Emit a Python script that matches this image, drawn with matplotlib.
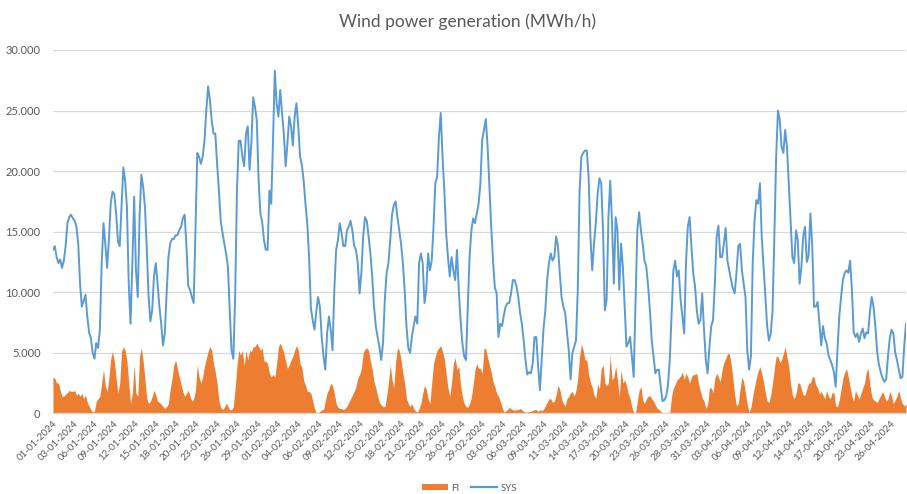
import matplotlib
matplotlib.use("Agg")
import matplotlib.pyplot as plt
from matplotlib.ticker import FuncFormatter, FixedLocator
from matplotlib.patches import Patch
from matplotlib.lines import Line2D
import numpy as np

# Hours between samples (readings taken every 6 hours from 01-01-2024 00:00)
step_hours = 6

# SYS wind power (MWh/h), 4 readings per day
sys_values = [
    13500, 13800, 12900, 12400,  12700, 12000, 12600, 13800,  15700, 16200, 16400, 16100,
    15900, 15400, 14000, 10700,  8800, 9300, 9800, 8000,      6700, 6200, 5000, 4500,
    5800, 5400, 6900, 12400,     15700, 14000, 12000, 14300,  17300, 18300, 18100, 16500,
    14200, 13800, 17000, 20300,  19200, 17000, 10700, 7400,   12400, 17900, 11800, 9600,
    16200, 19700, 18700, 17000,  13600, 9700, 7600, 8500,     11300, 12400, 10700, 8800,
    7400, 5600, 6600, 9900,      12900, 14000, 14400, 14400,  14700, 14700, 15100, 15400,
    16100, 16400, 13800, 10500,  10200, 9600, 9100, 15100,    21500, 21200, 20600, 21200,
    22500, 25000, 27000, 25900,  24200, 23100, 23100, 20600,  18400, 15900, 14900, 14000,
    13200, 12100, 8500, 5200,    4500, 9600, 18400, 22500,    22500, 21200, 20400, 23100,
    23700, 20100, 22300, 26100,  25300, 24200, 19300, 16500,  15800, 14300, 13500, 13500,
    18400, 17300, 22500, 28300,  25600, 24500, 26700, 24800,  23100, 20400, 22300, 24500,
    23700, 22100, 24500, 25600,  23700, 21200, 20500, 19200,  17300, 15700, 12900, 8700,
    7700, 6900, 8400, 9600,      8800, 6300, 4700, 3600,      6600, 8000, 6900, 5200,
    10200, 13500, 14300, 15700,  14900, 13800, 13800, 15100,  15400, 15900, 15100, 13800,
    13500, 12400, 9900, 11600,   14600, 16200, 15900, 14600,  13200, 11300, 8800, 7200,
    6300, 5500, 4400, 5800,      9400, 11600, 12400, 14300,   16400, 17200, 17500, 16200,
    15100, 14000, 12400, 10200,  7200, 5400, 5000, 6300,      7200, 8000, 7400, 12400,
    13200, 12400, 9100, 10200,   13200, 11800, 12600, 15400,  19000, 19500, 22800, 24800,
    21200, 18400, 14900, 12900,  11300, 12900, 11800, 11000,  13500, 10200, 7700, 5800,
    4700, 4400, 8800, 12900,     15100, 16100, 15700, 16500,  17300, 19000, 22600, 23400,
    24300, 22000, 18700, 15400,  12600, 10400, 9900, 6300,    7400, 7200, 8100, 8800,
    9100, 9100, 9900, 11000,     11000, 10500, 9600, 8300,    7400, 6000, 4400, 3200,
    3400, 3300, 4100, 6300,      6300, 3900, 1900, 4400,      7000, 8500, 11000, 12400,
    13200, 12600, 12900, 14600,  13800, 11600, 9600, 8800,    8300, 6700, 5200, 2800,
    5000, 5500, 6000, 10200,     18400, 21200, 21500, 21700,  21700, 19500, 14600, 11800,
    14000, 15700, 18100, 19400,  19000, 15100, 8500, 9400,    16200, 19200, 15700, 10700,
    16200, 15100, 10200, 14000,  12100, 8800, 5500, 5800,     6300, 4700, 3000, 9100,
    15100, 16600, 15100, 14000,  12600, 12100, 10500, 8500,   6000, 4700, 3300, 3600,
    3600, 2200, 1000, 1100,      1400, 2300, 4400, 8000,      11800, 12600, 11300, 11800,
    9400, 8000, 6600, 12400,     15400, 16200, 13800, 11600,  10500, 8500, 7400, 7700,
    9900, 6900, 4400, 3300,      5500, 7200, 7700, 10700,     14600, 15500, 12900, 12900,
    14000, 15300, 12600, 11800,  11000, 10300, 9900, 11600,   13800, 14000, 11800, 10700,
    9600, 5200, 3600, 4700,      12400, 15900, 17600, 17300,  19000, 14600, 12100, 9600,
    7200, 6000, 6600, 8500,      14600, 21200, 25000, 24200,  22000, 21500, 23400, 22000,
    19000, 15900, 12900, 12400,  15100, 14300, 10700, 12100,  14600, 15400, 12500, 13000,
    16500, 13800, 8800, 8800,    9200, 7400, 5600, 7200,      6200, 5800, 4800, 4400,
    4000, 3400, 2200, 5200,      8000, 9600, 11000, 11600,    11800, 11600, 12600, 10200,
    6700, 6300, 6600, 5900,      6600, 7000, 6200, 6700,      6600, 8400, 9600, 8800,
    7200, 5100, 4000, 3400,      2900, 2600, 2800, 4700,      6200, 6900, 6600, 5000,
    4400, 3600, 2900, 3000,      5500, 7400,
]

# FI wind power (MWh/h), same timestamps
fi_values = [
    3000, 2900, 2500, 2500,  1900, 1400, 1400, 1600,  1700, 1900, 1800, 1800,
    1900, 1500, 1650, 1400,  1650, 1200, 1500, 900,   600, 300, 100, 200,
    1000, 1200, 1400, 2500,  3600, 2300, 1800, 2900,  4500, 5100, 4300, 2900,
    1650, 2500, 5100, 5500,  5200, 4300, 2500, 800,   1650, 4000, 1650, 1400,
    4700, 5400, 4300, 2750,  1200, 800, 1000, 1400,   1900, 1500, 1000, 900,
    750, 550, 400, 550,      800, 2000, 2900, 4000,   4400, 3700, 3000, 2400,
    1800, 1400, 1650, 1900,  1400, 1000, 1200, 1900,  4000, 3000, 2500, 3000,
    3900, 4500, 5100, 5500,  5200, 4100, 3400, 2500,  1000, 500, 300, 500,
    800, 600, 300, 300,      550, 2100, 3900, 5200,   4800, 5200, 3900, 5200,
    4400, 5200, 5100, 5500,  5500, 5800, 5500, 5200,  5400, 4300, 4300, 4100,
    3300, 3000, 3200, 3000,  4100, 5500, 5800, 5400,  5000, 4300, 3700, 4000,
    4400, 4700, 5200, 5600,  5200, 4100, 3800, 2700,  2300, 1800, 1800, 1650,
    1000, 400, 50, 50,       150, 300, 300, 1000,     1700, 2000, 2500, 2300,
    1650, 800, 500, 400,     400, 300, 400, 600,      900, 1200, 1500, 1800,
    2200, 2900, 3200, 3700,  5000, 5300, 5400, 5200,  4300, 3600, 2600, 2100,
    1400, 900, 700, 550,     550, 1400, 2500, 4000,   2750, 2100, 4300, 5400,
    5200, 4400, 3300, 2500,  1200, 800, 550, 800,     400, 200, 100, 400,
    800, 1650, 2300, 2000,   1200, 800, 2500, 4100,   4700, 5200, 5400, 5600,
    5100, 4500, 3300, 2100,  1400, 2500, 4100, 4600,  3600, 3900, 2300, 1400,
    800, 550, 500, 800,      1300, 2400, 3600, 4100,  3700, 3700, 3300, 5400,
    5300, 4600, 4000, 3400,  2600, 2200, 1650, 1400,  1000, 500, 100, 200,
    300, 500, 350, 300,      250, 300, 300, 400,      300, 150, 100, 100,
    150, 150, 250, 300,      300, 150, 300, 200,      350, 600, 900, 1200,
    1200, 900, 1000, 1500,   2300, 2000, 1200, 800,   600, 1200, 1400, 1700,
    1800, 1400, 1900, 2900,  4700, 5700, 5200, 4400,  4400, 3200, 2600, 2100,
    1500, 1200, 2400, 2000,  3700, 4000, 2500, 2300,  2500, 4800, 2750, 3000,
    3900, 2750, 1400, 3600,  2500, 2750, 2300, 1600,  1200, 500, 50, 0,
    1000, 1900, 2200, 1100,  800, 1200, 1400, 1450,   1200, 1000, 700, 400,
    300, 150, 50, 0,         0, 0, 0, 1400,           2100, 2400, 2750, 2900,
    3100, 3400, 2800, 3300,  3000, 2500, 3000, 3200,  3200, 3300, 2400, 1800,
    1300, 1000, 400, 700,    2100, 2100, 1700, 2900,  3300, 3000, 2600, 3600,
    4200, 4500, 4900, 4950,  4100, 2900, 1500, 600,   800, 2000, 3000, 2600,
    1650, 700, 100, 500,     1400, 2200, 2900, 3500,  3850, 3300, 2600, 1700,
    1000, 900, 1500, 2500,   3700, 4700, 4700, 4200,  4400, 4950, 5500, 4600,
    3850, 2400, 1500, 1200,  1650, 2500, 2500, 2000,  1500, 1500, 2000, 2500,
    2500, 3000, 3000, 2300,  2100, 1600, 1800, 1500,  1200, 1900, 1400, 1200,
    1700, 1700, 600, 550,    1100, 2000, 2900, 3400,  3700, 3000, 2200, 1400,
    1000, 1900, 1500, 1200,  1650, 2100, 2500, 3400,  3700, 2300, 1400, 1100,
    1000, 900, 1200, 1500,   1800, 1400, 1000, 1200,  1800, 1400, 800, 1100,
    1400, 1900, 1200, 800,   600, 800,
]

# Category-axis tick labels (one every 68 hours)
tick_step_hours = 68
tick_labels = [
    "01-01-2024", "03-01-2024", "06-01-2024", "09-01-2024", "12-01-2024", "15-01-2024",
    "18-01-2024", "20-01-2024", "23-01-2024", "26-01-2024", "29-01-2024", "01-02-2024",
    "04-02-2024", "06-02-2024", "09-02-2024", "12-02-2024", "15-02-2024", "18-02-2024",
    "21-02-2024", "23-02-2024", "26-02-2024", "29-02-2024", "03-03-2024", "06-03-2024",
    "09-03-2024", "11-03-2024", "14-03-2024", "17-03-2024", "20-03-2024", "23-03-2024",
    "26-03-2024", "28-03-2024", "31-03-2024", "03-04-2024", "06-04-2024", "09-04-2024",
    "12-04-2024", "14-04-2024", "17-04-2024", "20-04-2024", "23-04-2024", "26-04-2024",
]

title = "Wind power generation (MWh/h)"
series_names = ["FI", "SYS"]
fi_color = "#ED7D31"
sys_color = "#5B9BD5"
text_color = "#595959"
grid_color = "#D9D9D9"

plt.rcParams['font.family'] = ['Lato', 'DejaVu Sans']

hours = np.arange(len(sys_values)) * step_hours

fig = plt.figure(figsize=(9.07, 4.94), dpi=100)
ax = fig.add_axes([53 / 907, 1 - 413.3 / 494, 853 / 907, (413.3 - 50) / 494])

ax.fill_between(hours, 0, fi_values, color=fi_color, linewidth=0, zorder=2)
ax.plot(hours, sys_values, color=sys_color, linewidth=1.4, zorder=3)

ax.set_ylim(0, 30000)
ax.set_xlim(0, hours[-1])
ax.yaxis.set_major_locator(FixedLocator(np.arange(0, 30001, 5000)))
ax.yaxis.set_major_formatter(FuncFormatter(lambda v, p: f"{v:,.0f}".replace(",", ".")))
ax.grid(axis='y', color=grid_color, linewidth=0.9, zorder=0)
ax.set_axisbelow(True)

tick_pos = np.arange(len(tick_labels)) * tick_step_hours
ax.set_xticks(tick_pos)
ax.set_xticklabels(tick_labels, rotation=45, ha='right', rotation_mode='anchor',
                   fontsize=7, color=text_color)
ax.tick_params(axis='x', length=0, pad=4)
ax.tick_params(axis='y', length=0, pad=9, labelsize=8, labelcolor=text_color)

for s in ['top', 'right', 'left']:
    ax.spines[s].set_visible(False)
ax.spines['bottom'].set_color(grid_color)
ax.spines['bottom'].set_linewidth(0.9)

fig.text(0.515, 1 - 22 / 494, title, ha='center', va='center', fontsize=12.5, color=text_color)

handles = [Patch(facecolor=fi_color, edgecolor='none'),
           Line2D([0], [0], color=sys_color, linewidth=1.6)]
fig.legend(handles, series_names, loc='center', bbox_to_anchor=(0.518, 1 - 488 / 494),
           ncol=2, frameon=False, fontsize=7, labelcolor=text_color,
           handlelength=2.6, handleheight=0.6, columnspacing=1.2, handletextpad=0.4)

fig.savefig("out.png", dpi=100)
